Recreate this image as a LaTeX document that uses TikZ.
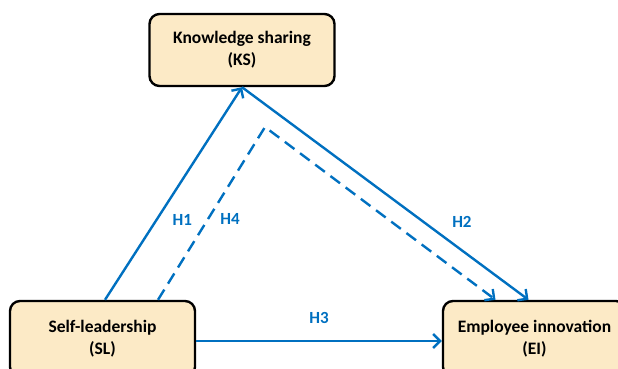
\documentclass[tikz,border=0pt]{standalone}
\usepackage{fontspec}
\setmainfont{Carlito}
\usetikzlibrary{positioning, arrows.meta}
\definecolor{boxfill}{RGB}{252,234,198}
\definecolor{pathblue}{RGB}{0,112,192}
\tikzstyle{construct} = [
    rectangle, rounded corners=10pt, draw=black, line width=2.4pt,
    fill=boxfill, minimum width=185pt, minimum height=72pt,
    align=center, font=\bfseries\fontsize{17.5}{22}\selectfont
]
\tikzstyle{link} = [
    draw=pathblue, line width=2.4pt,
    -{Straight Barb[length=7pt, width=14pt]}
]
\tikzstyle{hyp} = [
    text=pathblue, font=\bfseries\fontsize{17}{20}\selectfont
]

\begin{document}
\begin{tikzpicture}[x=1pt, y=-1pt]
        \useasboundingbox (0,0) rectangle (618,368);
        % Constructs
        \node[construct] (ks) at (242,50) {Knowledge sharing\\(KS)};
        \node[construct, minimum height=76pt] (sl) at (102.5,339) {Self-leadership\\(SL)};
        \node[construct, minimum width=183pt, minimum height=76pt] (ei) at (534.5,339) {Employee innovation\\(EI)};

        % corner of the indirect path
        \coordinate (bend) at (265,127);

        % Hypothesised paths
        \draw[link] ([xshift=2.5pt]sl.north) -- (ks.south) node[hyp, pos=0.375, xshift=26pt] {H1};
        \draw[link] (ks.south) -- ([xshift=-6pt]ei.north) node[hyp, pos=0.635, xshift=38pt] {H2};
        \draw[link] ([yshift=-2pt]sl.east) -- ([yshift=-2pt]sl.east -| ei.west) node[hyp, midway, above=13pt] {H3};
        \draw[link, dashed, dash pattern=on 12pt off 7pt] ([xshift=55.5pt]sl.north) -- (bend) -- ([xshift=-39pt]ei.north);
        \node[hyp] (h4) at (230,219) {H4};

    \end{tikzpicture}
\end{document}
